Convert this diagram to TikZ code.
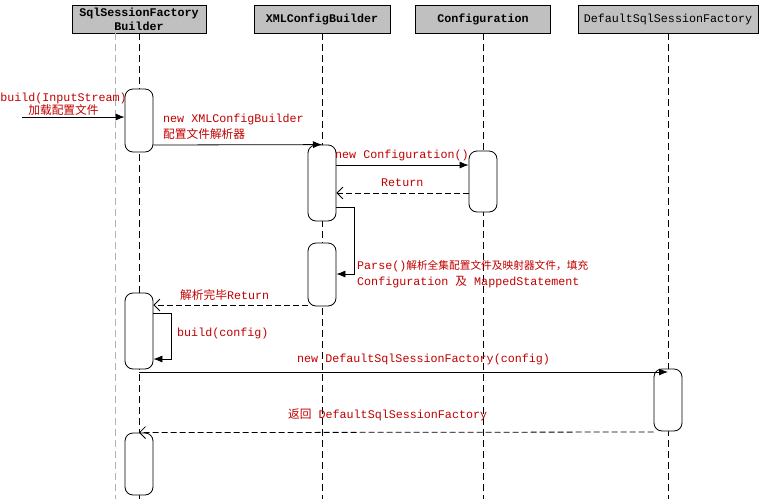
\documentclass[tikz,border=0pt]{standalone}
\usepackage{fontspec}
\setmonofont{Liberation Mono}
\newfontfamily\cjk{Noto Sans CJK SC}
\usetikzlibrary{arrows.meta,calc}
\definecolor{msgred}{RGB}{192,0,0}
\definecolor{headgray}{RGB}{192,192,192}
\tikzset{
  head/.style={draw, fill=headgray, minimum height=28pt, inner sep=1pt, line width=0.8pt, align=center, font=\ttfamily\bfseries\fontsize{11.7}{14}\selectfont},
  life/.style={dash pattern=on 7pt off 4pt, line width=0.8pt},
  act/.style={draw, fill=white, rounded corners=8pt, minimum width=28pt, inner sep=0pt, line width=0.8pt},
  call/.style={-{Latex[length=9pt,width=7pt]}, line width=0.8pt},
  back/.style={-{Straight Barb[length=6pt,width=12pt]}, dash pattern=on 6pt off 3pt, line width=0.8pt},
  lbl/.style={text=msgred, inner sep=0pt, anchor=west, align=left, font=\ttfamily\fontsize{11.7}{16}\selectfont}
}
\begin{document}
\begin{tikzpicture}[x=1pt, y=-1pt]
\useasboundingbox (0,0) rectangle (764,499);
\node [head, minimum width=134pt] (h1) at (139,19) {SqlSessionFactory\\Builder};
\node [head, minimum width=136pt] (h2) at (322,19) {XMLConfigBuilder};
\node [head, minimum width=135pt] (h3) at (483,19) {Configuration};
\node [head, minimum width=180pt, font=\ttfamily\fontsize{11.7}{14}\selectfont] (h4) at (668,19) {DefaultSqlSessionFactory};
\coordinate (bot) at (0,499);
\draw [life, gray!60, line width=0.6pt] ($(h1.south)+(-24,0)$) -- ($(h1.south |- bot)+(-24,0)$);
\foreach \h in {h1,h2,h3,h4}
  \draw [life] (\h.south) -- (\h.south |- bot);
\node [act, minimum height=63pt] (a1) at (139,120.5) {};
\node [act, minimum height=76pt] (a2) at (322,183) {};
\node [act, minimum height=61pt] (a3) at (483,181.5) {};
\node [act, minimum height=63pt] (a4) at (322,274.5) {};
\node [act, minimum height=76pt] (a5) at (139,331) {};
\node [act, minimum height=62pt] (a6) at (668,400) {};
\node [act, minimum height=62pt] (a7) at (139,464) {};
\coordinate (s1) at (22,117);
\coordinate (m2) at (0,145);
\coordinate (m3) at (0,165);
\coordinate (m4) at (0,193);
\coordinate (m5) at (0,207);
\coordinate (m5b) at (0,274);
\coordinate (m6) at (0,305);
\coordinate (m7) at (0,313);
\coordinate (m7b) at (0,359);
\coordinate (m8) at (0,372);
\coordinate (m9) at (0,432);
\draw [call] (s1) -- (a1.west |- s1);
\draw [call] (a1.east |- m2) -- (a2.north);
\draw [call] (a2.east |- m3) -- (a3.west |- m3);
\draw [back] (a3.west |- m4) -- (a2.east |- m4);
\draw [call] (a2.east |- m5) -- ++(18,0) |- (a4.east |- m5b);
\draw [back] (a4.west |- m6) -- (a5.east |- m6);
\draw [call] (a5.east |- m7) -- ++(18,0) |- (a5.east |- m7b);
\draw [call] (a5.south |- m8) -- (a6.north |- m8);
\draw [back] (a6.west |- m9) -- (a7.north);
\node [lbl, anchor=center, align=center, font=\ttfamily\fontsize{11.7}{13}\selectfont] (l1) at (63.5,104) {build(InputStream)\\{\cjk 加载配置文件}};
\node [lbl] (l2) at (163,127) {new XMLConfigBuilder\\{\cjk 配置文件解析器}};
\node [lbl] (l3) at (335,155) {new Configuration()};
\node [lbl] (l4) at (381,183) {Return};
\node [lbl] (l5) at (357,274) {Parse(){\cjk\fontsize{10.7}{16}\selectfont 解析全集配置文件及映射器文件，填充}\\Configuration {\cjk 及} MappedStatement};
\node [lbl] (l6) at (180,295) {{\cjk 解析完毕}Return};
\node [lbl] (l7) at (177,333) {build(config)};
\node [lbl] (l8) at (297,359) {new DefaultSqlSessionFactory(config)};
\node [lbl] (l9) at (288,415) {{\cjk 返回} DefaultSqlSessionFactory};
\end{tikzpicture}
\end{document}
